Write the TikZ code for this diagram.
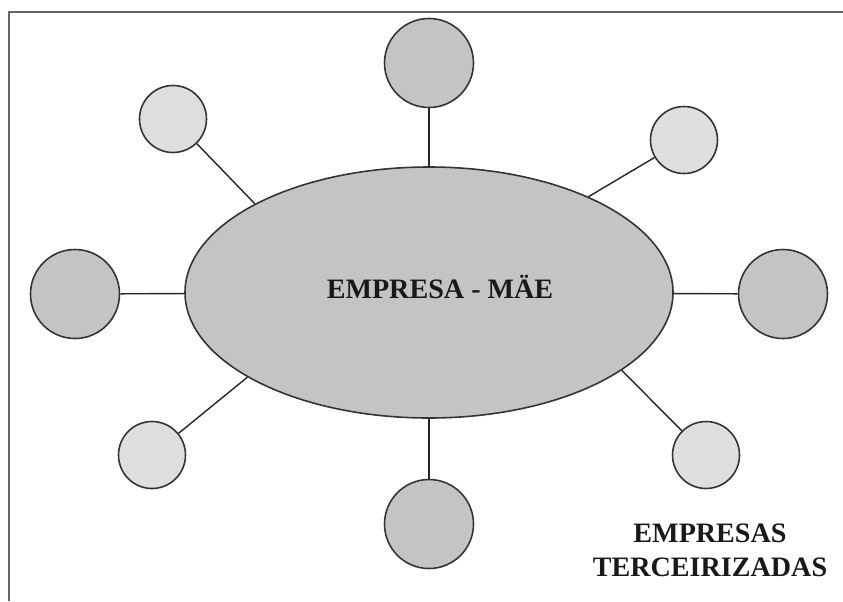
\documentclass[tikz,border=0pt]{standalone}
\usepackage{fontspec}
\setmainfont{Liberation Serif}
\usetikzlibrary{shapes.geometric}

\begin{document}
\begin{tikzpicture}[
  x=0.2mm, y=-0.2mm,
  % Node Styles
  mother/.style={draw=black!80, line width=0.9pt, ellipse, fill=black!23, minimum width=9.76cm, minimum height=5.02cm, inner sep=0pt},
  big_unit/.style={draw=black!80, line width=0.9pt, circle, fill=black!23, minimum size=1.78cm, inner sep=0pt},
  small_unit/.style={draw=black!80, line width=0.9pt, circle, fill=black!13, minimum size=1.34cm, inner sep=0pt},
  % Line Styles
  link/.style={line width=0.8pt, black!85},
  frame_line/.style={line width=0.6pt, black!60},
  % Label Styles
  lbl/.style={font=\bfseries\fontsize{16}{19.4}\selectfont, align=center, text=black!90, inner sep=0pt}
]
\useasboundingbox (0,0) rectangle (843,601);

% ================= FRAME =================
\draw[frame_line] (9,601) -- (9,12) -- (843,12);

% ================= NODES =================

% --- Parent company (Center) ---
\node[mother] (mae) at (429,292.5) {};
\node[lbl] (mae_txt) at (440,287) {EMPRESA - MÄE};

% --- Outsourced units (dark) ---
\node[big_unit] (top)    at (429,63)  {};
\node[big_unit] (bottom) at (429,524) {};
\node[big_unit] (left)   at (75,294)  {};
\node[big_unit] (right)  at (783,294) {};

% --- Outsourced units (light) ---
\node[small_unit] (topleft)     at (173,119) {};
\node[small_unit] (topright)    at (684,140) {};
\node[small_unit] (bottomleft)  at (152,455) {};
\node[small_unit] (bottomright) at (706,455) {};

% --- Caption (Bottom Right) ---
\node[lbl] (terc) at (710,550) {EMPRESAS\\TERCEIRIZADAS};

% ================= CONNECTIONS =================
\draw[link] (top) -- (mae);
\draw[link] (bottom) -- (mae);
\draw[link] (left) -- (mae);
\draw[link] (right) -- (mae);

\draw[link] (topleft) -- (mae.153);
\draw[link] (topright) -- (mae.31);
\draw[link] (bottomleft) -- (mae.205);
\draw[link] (bottomright) -- (mae.338);

\end{tikzpicture}
\end{document}
